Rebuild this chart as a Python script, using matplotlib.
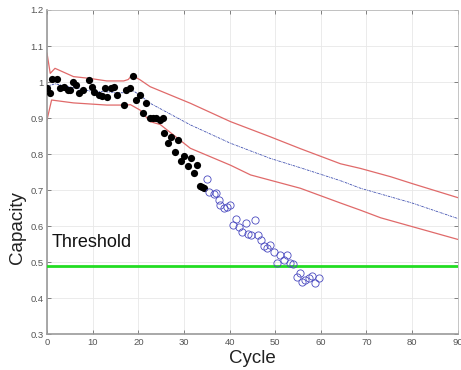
import numpy as np
import matplotlib
matplotlib.use("Agg")
import matplotlib.pyplot as plt

plt.rcParams.update({
    "font.family": ["Liberation Sans", "DejaVu Sans"],
    "xtick.direction": "in",
    "ytick.direction": "in",
})

# ── measured capacity (filled = training part, open = prediction part) ──
meas_cycle = [0.0, 0.7, 1.2, 2.1, 2.9, 3.7, 4.5, 5.0, 5.6, 6.4, 7.1, 7.8,
              9.1, 9.8, 10.4, 11.3, 12.0, 12.7, 13.2, 14.0, 14.7, 15.4,
              16.8, 17.3, 18.2, 18.8, 19.5, 20.3, 21.0, 21.7, 22.5, 23.2,
              23.9, 24.7, 25.4, 25.7, 26.4, 27.2, 28.1, 28.8, 29.4, 30.1,
              30.9, 31.5, 32.3, 32.8, 33.6, 33.9, 34.3]
meas_cap = [0.982, 0.970, 1.008, 1.008, 0.982, 0.985, 0.979, 0.979, 1.000,
            0.991, 0.970, 0.977, 1.005, 0.985, 0.973, 0.965, 0.961, 0.982,
            0.959, 0.984, 0.985, 0.965, 0.936, 0.977, 0.982, 1.016, 0.950,
            0.965, 0.915, 0.941, 0.899, 0.899, 0.899, 0.894, 0.899, 0.859,
            0.830, 0.848, 0.807, 0.839, 0.781, 0.794, 0.768, 0.790, 0.746,
            0.770, 0.712, 0.709, 0.706]

pred_cycle = [35.0, 35.6, 36.5, 37.1, 37.6, 38.0, 38.7, 39.4, 40.1, 40.8,
              41.3, 42.0, 42.7, 43.5, 44.1, 44.8, 45.5, 46.3, 46.9, 47.5,
              48.2, 48.9, 49.7, 50.4, 51.1, 51.9, 52.5, 53.2, 53.9, 54.7,
              55.4, 55.9, 56.6, 57.4, 58.1, 58.8, 59.5]
pred_cap = [0.731, 0.694, 0.688, 0.693, 0.672, 0.658, 0.649, 0.652, 0.658,
            0.603, 0.620, 0.598, 0.584, 0.609, 0.577, 0.575, 0.617, 0.575,
            0.562, 0.545, 0.538, 0.548, 0.529, 0.498, 0.519, 0.507, 0.519,
            0.498, 0.496, 0.459, 0.470, 0.445, 0.450, 0.456, 0.461, 0.443,
            0.456]

# ── model mean and bounds ──
up_cycle = [0, 0.7, 1.75, 5.8, 9.4, 13.1, 16.8, 17.8, 18.6, 20.4, 22.6,
            31.4, 40.2, 48.9, 55.5, 64.3, 68.7, 75.3, 80, 90]
up_cap = [1.080, 1.024, 1.038, 1.015, 1.010, 1.003, 1.003, 1.007, 1.019,
          1.006, 0.987, 0.941, 0.890, 0.848, 0.815, 0.773, 0.760, 0.737,
          0.718, 0.679]

mean_cycle = [0, 1.75, 9.4, 16.8, 18.6, 20.4, 22.6, 31.4, 40.2, 48.9, 55.5,
              64.3, 68.7, 80, 90]
mean_cap = [0.988, 0.995, 0.975, 0.970, 0.978, 0.963, 0.941, 0.881, 0.830,
            0.788, 0.762, 0.726, 0.705, 0.664, 0.621]

lo_cycle = [0, 1.0, 5.8, 13.1, 16.8, 18.3, 20.4, 22.6, 24.8, 31.4, 40.2,
            44.6, 55.5, 64.3, 68.7, 73.1, 90]
lo_cap = [0.895, 0.950, 0.942, 0.936, 0.936, 0.937, 0.922, 0.890, 0.882,
          0.816, 0.769, 0.742, 0.705, 0.664, 0.644, 0.623, 0.563]

threshold = 0.49

xticks = [0, 10, 20, 30, 40, 50, 60, 70, 80, 90]
yticks = [0.3, 0.4, 0.5, 0.6, 0.7, 0.8, 0.9, 1.0, 1.1, 1.2]
ytick_labels = ["0.3", "0.4", "0.5", "0.6", "0.7", "0.8", "0.9", "1", "1.1", "1.2"]

fig = plt.figure(figsize=(4.61, 3.70), dpi=100)
ax = fig.add_axes([0.102, 0.097, 0.891, 0.876])

ax.plot(up_cycle, up_cap, color="#e06a6a", linewidth=0.9, zorder=2)
ax.plot(lo_cycle, lo_cap, color="#e06a6a", linewidth=0.9, zorder=2)
ax.plot(mean_cycle, mean_cap, color="#4050b0", linestyle=(0, (3, 1, 1, 1)),
        linewidth=0.6, zorder=2)

ax.axhline(threshold, color="#22dd22", linewidth=2.0, zorder=3)

ax.plot(meas_cycle, meas_cap, "o", color="black", markersize=5.2,
        markeredgewidth=0, zorder=4)
ax.plot(pred_cycle, pred_cap, "o", markerfacecolor="none",
        markeredgecolor="#4a4ac0", markersize=5.2, markeredgewidth=0.6,
        zorder=4)

ax.text(1.1, 0.553, "Threshold", fontsize=13, ha="left", va="center",
        color="#111111")

ax.set_xlim(0, 90)
ax.set_ylim(0.3, 1.2)
ax.set_xticks(xticks)
ax.set_yticks(yticks)
ax.set_yticklabels(ytick_labels)
ax.tick_params(labelsize=6.8, colors="#555555", length=3, width=0.5,
               top=True, right=True, pad=2.5)
for lab in ax.get_xticklabels() + ax.get_yticklabels():
    lab.set_color("#555555")

ax.grid(True, color="#e8e8e8", linewidth=0.6, zorder=0)
ax.set_axisbelow(True)
for side in ["left", "bottom"]:
    ax.spines[side].set_color("#9a9a9a")
    ax.spines[side].set_linewidth(1.2)
for side in ["top", "right"]:
    ax.spines[side].set_color("#bbbbbb")
    ax.spines[side].set_linewidth(0.6)

ax.set_xlabel("Cycle", fontsize=13.5, color="#222222")
ax.set_ylabel("Capacity", fontsize=13.5, color="#222222")
ax.xaxis.set_label_coords(0.50, -0.049)
ax.yaxis.set_label_coords(-0.052, 0.33)

fig.savefig("out.png", dpi=100)
